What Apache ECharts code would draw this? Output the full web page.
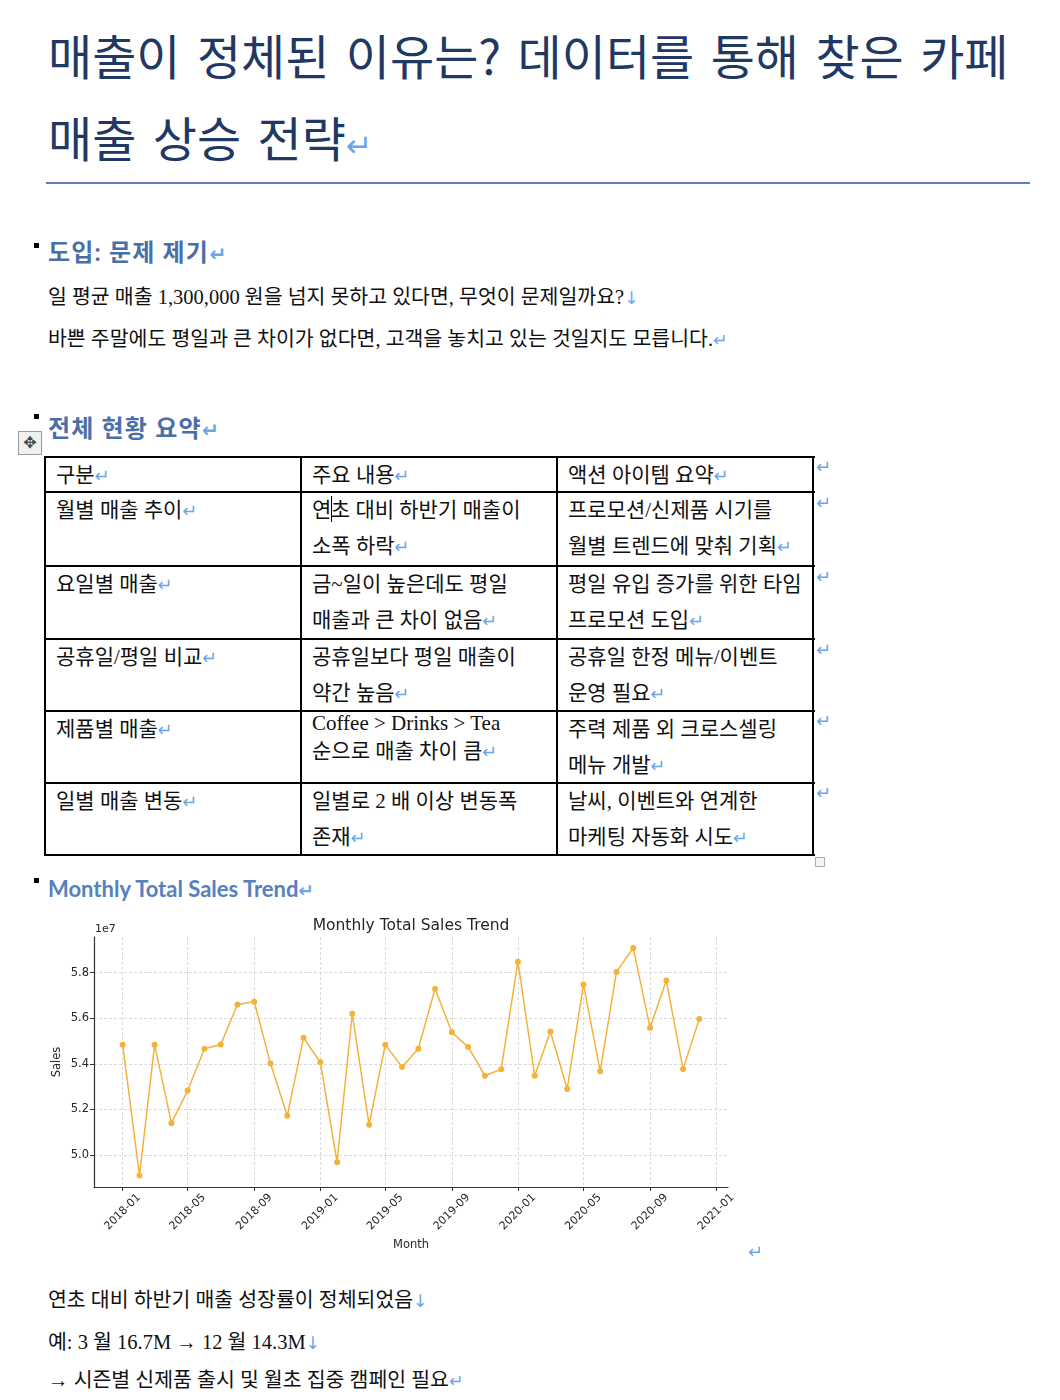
<!DOCTYPE html>
<html lang="ko">
<head>
<meta charset="UTF-8">
<title>매출이 정체된 이유는?</title>
<script src="https://cdn.jsdelivr.net/npm/echarts@6/dist/echarts.min.js"></script>
<style>
  html, body { margin: 0; padding: 0; background: #fff; }
  body { width: 1060px; height: 1400px; position: relative; overflow: hidden;
         font-family: "Liberation Serif", "Noto Sans CJK KR", sans-serif; color: #111; }
  .abs { position: absolute; white-space: nowrap; }
  .ret { font-family: "DejaVu Sans", sans-serif; color: #6aa6e8; font-size: 0.85em; }
  .title { left: 48px; top: 13px; font-family: "Noto Sans CJK KR", sans-serif; font-size: 48px;
           line-height: 82px; color: #1f3864; word-spacing: 3px; }
  .title .ret { font-size: 32px; }
  .rule { position: absolute; left: 46px; top: 182px; width: 984px; height: 2px; background: #5a80b9; }
  .h2 { left: 48px; font-family: "Lato", "Noto Sans CJK KR", sans-serif; font-weight: bold; font-size: 24px;
        line-height: 30px; color: #4a6fa8; letter-spacing: 1.2px; }
  .bullet { position: absolute; left: 34px; width: 5px; height: 5px; background: #000; }
  .p { left: 48px; font-size: 20.5px; line-height: 26px; }
  .hl { position: absolute; left: 45px; width: 770px; height: 2px; background: #000; }
  .vl { position: absolute; top: 456px; width: 2px; height: 400px; background: #000; }
  .cell { position: absolute; white-space: nowrap; font-size: 21px; line-height: 36px; }
  .caret { display: inline-block; width: 0; height: 26px; border-left: 1.5px solid #000; vertical-align: -5px; margin: 0 -0.75px; }
  .handle { position: absolute; left: 18px; top: 431px; width: 22px; height: 22px; border: 1px solid #9a9a9a;
            background: #f0f0f0; font-family: "DejaVu Sans", sans-serif; font-size: 16px; line-height: 22px;
            text-align: center; color: #444; }
  .handle2 { position: absolute; left: 815px; top: 857px; width: 8px; height: 8px; border: 1px solid #aaa; background: #f3f3f3; }
  .oret { position: absolute; left: 816px; font-family: "DejaVu Sans", sans-serif; color: #6aa6e8; font-size: 18px; line-height: 20px; }
  #chart { position: absolute; left: 40px; top: 905px; width: 720px; height: 350px; }
</style>
</head>
<body>

<div class="abs title">매출이 정체된 이유는? 데이터를 통해 찾은 카페<br>매출 상승 전략<span class="ret">↵</span></div>
<div class="rule"></div>

<div class="bullet" style="top:243px"></div>
<div class="abs h2" style="top:237px">도입: 문제 제기<span class="ret">↵</span></div>
<div class="abs p" style="top:284px">일 평균 매출 1,300,000 원을 넘지 못하고 있다면, 무엇이 문제일까요?<span class="ret">↓</span></div>
<div class="abs p" style="top:326px">바쁜 주말에도 평일과 큰 차이가 없다면, 고객을 놓치고 있는 것일지도 모릅니다.<span class="ret">↵</span></div>

<div class="bullet" style="top:414px"></div>
<div class="abs h2" style="top:413px">전체 현황 요약<span class="ret">↵</span></div>
<div class="handle">✥</div>

<!-- 표 테두리 -->
<div class="hl" style="top:456px"></div>
<div class="hl" style="top:491px"></div>
<div class="hl" style="top:565px"></div>
<div class="hl" style="top:638px"></div>
<div class="hl" style="top:710px"></div>
<div class="hl" style="top:782px"></div>
<div class="hl" style="top:854px"></div>
<div class="vl" style="left:44px"></div>
<div class="vl" style="left:300px"></div>
<div class="vl" style="left:556px"></div>
<div class="vl" style="left:812px"></div>

<div class="cell" style="left:56px;top:457px">구분<span class="ret">↵</span></div>
<div class="cell" style="left:312px;top:457px">주요 내용<span class="ret">↵</span></div>
<div class="cell" style="left:568px;top:457px">액션 아이템 요약<span class="ret">↵</span></div>

<div class="cell" style="left:56px;top:492px">월별 매출 추이<span class="ret">↵</span></div>
<div class="cell" style="left:312px;top:492px">연<span class="caret"></span>초 대비 하반기 매출이<br>소폭 하락<span class="ret">↵</span></div>
<div class="cell" style="left:568px;top:492px">프로모션/신제품 시기를<br>월별 트렌드에 맞춰 기획<span class="ret">↵</span></div>

<div class="cell" style="left:56px;top:566px">요일별 매출<span class="ret">↵</span></div>
<div class="cell" style="left:312px;top:566px">금~일이 높은데도 평일<br>매출과 큰 차이 없음<span class="ret">↵</span></div>
<div class="cell" style="left:568px;top:566px">평일 유입 증가를 위한 타임<br>프로모션 도입<span class="ret">↵</span></div>

<div class="cell" style="left:56px;top:639px">공휴일/평일 비교<span class="ret">↵</span></div>
<div class="cell" style="left:312px;top:639px">공휴일보다 평일 매출이<br>약간 높음<span class="ret">↵</span></div>
<div class="cell" style="left:568px;top:639px">공휴일 한정 메뉴/이벤트<br>운영 필요<span class="ret">↵</span></div>

<div class="cell" style="left:56px;top:711px">제품별 매출<span class="ret">↵</span></div>
<div class="cell" style="left:312px;top:710px;line-height:26px">Coffee &gt; Drinks &gt; Tea</div>
<div class="cell" style="left:312px;top:733px">순으로 매출 차이 큼<span class="ret">↵</span></div>
<div class="cell" style="left:568px;top:711px">주력 제품 외 크로스셀링<br>메뉴 개발<span class="ret">↵</span></div>

<div class="cell" style="left:56px;top:783px">일별 매출 변동<span class="ret">↵</span></div>
<div class="cell" style="left:312px;top:783px">일별로 2 배 이상 변동폭<br>존재<span class="ret">↵</span></div>
<div class="cell" style="left:568px;top:783px">날씨, 이벤트와 연계한<br>마케팅 자동화 시도<span class="ret">↵</span></div>

<div class="oret" style="top:457px">↵</div>
<div class="oret" style="top:493px">↵</div>
<div class="oret" style="top:567px">↵</div>
<div class="oret" style="top:640px">↵</div>
<div class="oret" style="top:711px">↵</div>
<div class="oret" style="top:783px">↵</div>
<div class="handle2"></div>

<div class="bullet" style="top:878px"></div>
<div class="abs h2" style="top:874px;font-size:22px;letter-spacing:0;color:#5680bf">Monthly Total Sales Trend<span class="ret">↵</span></div>

<div id="chart"></div>
<div class="oret" style="left:748px;top:1242px">↵</div>

<div class="abs p" style="top:1287px">연초 대비 하반기 매출 성장률이 정체되었음<span class="ret">↓</span></div>
<div class="abs p" style="top:1329px">예: 3 월 16.7M → 12 월 14.3M<span class="ret">↓</span></div>
<div class="abs p" style="top:1367px">→ 시즌별 신제품 출시 및 월초 집중 캠페인 필요<span class="ret">↵</span></div>

<script type="text/javascript">
    // 월별 총 매출 (원)
    var months = ['2018-01', '2018-02', '2018-03', '2018-04', '2018-05', '2018-06',
                  '2018-07', '2018-08', '2018-09', '2018-10', '2018-11', '2018-12',
                  '2019-01', '2019-02', '2019-03', '2019-04', '2019-05', '2019-06',
                  '2019-07', '2019-08', '2019-09', '2019-10', '2019-11', '2019-12',
                  '2020-01', '2020-02', '2020-03', '2020-04', '2020-05', '2020-06',
                  '2020-07', '2020-08', '2020-09', '2020-10', '2020-11', '2020-12'];
    var sales = [54840000, 49100000, 54840000, 51400000, 52830000, 54660000,
                 54850000, 56600000, 56720000, 54010000, 51720000, 55140000,
                 54070000, 49690000, 56190000, 51330000, 54840000, 53860000,
                 54660000, 57290000, 55380000, 54740000, 53480000, 53760000,
                 58480000, 53480000, 55420000, 52900000, 57480000, 53670000,
                 58030000, 59080000, 55580000, 57650000, 53770000, 55970000];
    var xTickLabels = ['2018-01', '2018-05', '2018-09', '2019-01', '2019-05',
                       '2019-09', '2020-01', '2020-05', '2020-09', '2021-01'];
    var yTickValues = [50000000, 52000000, 54000000, 56000000, 58000000];

    function toTime(s) {
        var p = s.split('-');
        return Date.UTC(+p[0], +p[1] - 1, 1);
    }
    function fmtMonth(v) {
        var d = new Date(v);
        var m = d.getUTCMonth() + 1;
        return d.getUTCFullYear() + '-' + (m < 10 ? '0' + m : m);
    }

    var DAY = 86400000;
    var xMin = toTime(months[0]) - 53 * DAY;
    var xMax = toTime(months[months.length - 1]) + 53 * DAY;
    var xTicks = xTickLabels.map(toTime);

    var myChart = echarts.init(document.getElementById('chart'));
    var option = {
        animation: false,
        textStyle: { fontFamily: 'DejaVu Sans' },
        grid: { left: 54, right: 32, top: 32, bottom: 68, containLabel: false, outerBoundsMode: 'none' },
        graphic: [
            { type: 'text', x: 371, y: 21,
              style: { text: 'Monthly Total Sales Trend', fontSize: 15.5, fill: '#262626', fontFamily: 'DejaVu Sans',
                       align: 'center', verticalAlign: 'middle' } },
            { type: 'text', x: 55, y: 24,
              style: { text: '1e7', fontSize: 11, fill: '#262626', fontFamily: 'DejaVu Sans',
                       align: 'left', verticalAlign: 'middle' } }
        ],
        xAxis: {
            type: 'value',
            min: xMin,
            max: xMax,
            name: 'Month',
            nameLocation: 'middle',
            nameGap: 52,
            nameMoveOverlap: false,
            nameTextStyle: { fontSize: 11.5, color: '#262626' },
            axisLine: { show: true, lineStyle: { color: '#333', width: 1.2 } },
            axisTick: { show: true, length: 4, customValues: xTicks, lineStyle: { color: '#333' } },
            axisLabel: {
                customValues: xTicks,
                rotate: 45,
                align: 'center',
                verticalAlign: 'middle',
                margin: 25,
                fontSize: 11,
                color: '#262626',
                formatter: function (v) { return fmtMonth(v); }
            },
            splitLine: { show: true, lineStyle: { color: '#d0d0d0', type: [3, 2], width: 0.8 } }
        },
        yAxis: {
            type: 'value',
            min: 48600000,
            max: 59560000,
            name: 'Sales',
            nameLocation: 'middle',
            nameGap: 31,
            nameMoveOverlap: false,
            nameRotate: 90,
            nameTextStyle: { fontSize: 11.5, color: '#262626' },
            axisLine: { show: true, lineStyle: { color: '#333', width: 1.2 } },
            axisTick: { show: true, length: 4, customValues: yTickValues, lineStyle: { color: '#333' } },
            axisLabel: {
                customValues: yTickValues,
                margin: 5,
                fontSize: 11.5,
                color: '#262626',
                formatter: function (v) { return (v / 10000000).toFixed(1); }
            },
            splitLine: { show: true, lineStyle: { color: '#d0d0d0', type: [3, 2], width: 0.8 } }
        },
        series: [{
            name: 'Sales',
            type: 'line',
            data: months.map(function (m, i) { return [toTime(m), sales[i]]; }),
            symbol: 'circle',
            symbolSize: 6,
            showSymbol: true,
            itemStyle: { color: '#f4b23a' },
            lineStyle: { color: '#f4b23a', width: 1.5 }
        }]
    };
    myChart.setOption(option);
</script>
</body>
</html>
